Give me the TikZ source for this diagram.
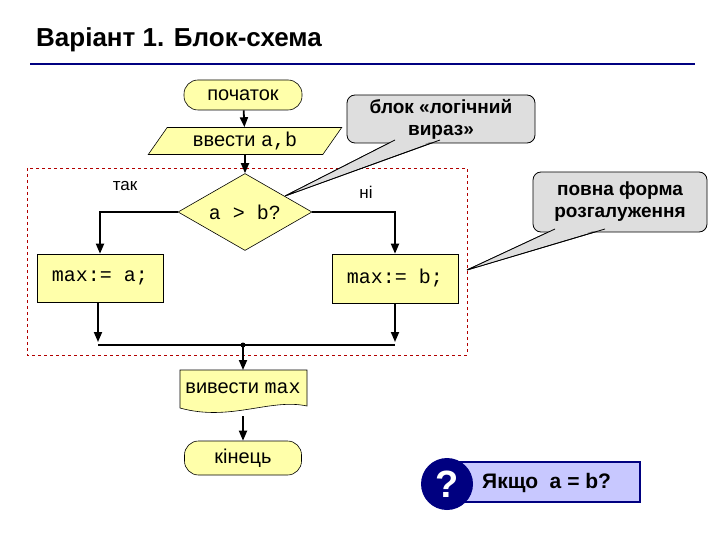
\documentclass[tikz,border=0pt]{standalone}
\usepackage{fontspec}
\setmainfont{Liberation Sans}
\setmonofont{Liberation Mono}
\usetikzlibrary{shapes.geometric,arrows.meta}
\definecolor{yel}{RGB}{255,255,170}
\definecolor{callg}{RGB}{222,222,222}
\definecolor{navy}{RGB}{0,0,128}
\definecolor{lav}{RGB}{200,200,255}
\begin{document}
\begin{tikzpicture}[x=1pt,y=-1pt,
  flow/.style={draw=black,line width=1.8pt,-{Triangle[length=10pt,width=8pt]}},
  blk/.style={draw=black,fill=yel,line width=0.6pt},
  txt/.style={font=\fontsize{20}{22}\selectfont,inner sep=0pt},
  mono/.style={font=\fontsize{20}{22}\selectfont\ttfamily},
  call/.style={draw=black,fill=callg,line width=0.8pt},
  ctxt/.style={font=\fontsize{19}{22}\selectfont\bfseries,align=center,inner sep=0pt}]
\useasboundingbox (0,0) rectangle (720,540);
\node[anchor=west,font=\fontsize{26}{30}\selectfont\bfseries,inner sep=0pt] (title) at (36,40) {Варіант 1. Блок-схема};
\draw[navy,line width=2.5pt] (30,64) -- (695,64);
\draw[red!70!black,dashed,line width=0.5pt] (27,168) rectangle (467,355);
\node[blk,rounded corners=14pt,minimum width=118pt,minimum height=30pt,txt] (start) at (243,95) {початок};
\node[blk,trapezium,trapezium left angle=55,trapezium right angle=125,minimum height=27pt,minimum width=130pt,inner xsep=2pt,txt] (input) at (245,141) {ввести \texttt{a,b}};
\node[blk,diamond,minimum width=134pt,minimum height=77pt,aspect=1.75,inner sep=0pt] (dec) at (245,212) {};
\node[inner sep=0pt,mono] (dect) at (245,212) {a > b?};
\node[blk,minimum width=126pt,minimum height=48pt,inner sep=0pt,mono] (ma) at (100,278) {max:= a;};
\node[blk,minimum width=126pt,minimum height=49pt,inner sep=0pt,mono] (mb) at (395,278.5) {max:= b;};
\node[txt,font=\fontsize{17}{19}\selectfont] (yes) at (125,186) {так};
\node[txt,font=\fontsize{17}{19}\selectfont] (no) at (366,192) {ні};
\draw[flow] (start) -- (input);
\draw[flow] (input) -- (dec);
\draw[flow] (dec.west) -| (ma.north);
\draw[flow] (dec.east) -| (mb.north);
\coordinate (ja) at (98,342);
\coordinate (jb) at (395,342);
\coordinate (jm) at (243,345);
\draw[flow] (ma.south-|ja) -- (ja);
\draw[flow] (mb.south) -- (jb);
\draw[line width=1.8pt] (98,345) -- (395,345);
\fill (jm) circle (2.5pt);
\draw[blk] (180,370) -- (307,370) -- (307,406) .. controls (270,398) and (230,422) .. (180,408) -- cycle;
\node[txt] (out) at (243,388) {вивести \texttt{max}};
\coordinate (outtop) at (243,370);
\coordinate (outbot) at (243,416);
\draw[flow] (jm) -- (outtop);
\node[blk,rounded corners=14pt,minimum width=117pt,minimum height=34pt,txt] (end) at (243,458) {кінець};
\draw[flow] (outbot) -- (end);
\coordinate (c1tip) at (285,196);
\draw[call] (395,140) -- (c1tip) -- (440,140) -- cycle;
\node[call,rounded corners=8pt,minimum width=188pt,minimum height=48pt,ctxt] (c1) at (441,119) {блок «логічний\\вираз»};
\fill[callg] (397,139) -- (c1tip) -- (438,139) -- cycle;
\draw[line width=0.8pt] (395,140) -- (c1tip) -- (440,140);
\coordinate (c2tip) at (467,270);
\draw[call] (555,229) -- (c2tip) -- (605,229) -- cycle;
\node[call,rounded corners=8pt,minimum width=174pt,minimum height=60pt,ctxt] (c2) at (620,202) {повна форма\\розгалуження};
\fill[callg] (557,228) -- (c2tip) -- (603,228) -- cycle;
\draw[line width=0.8pt] (555,229) -- (c2tip) -- (605,229);
\node[draw=navy,fill=lav,line width=1.5pt,minimum width=180pt,minimum height=40pt,inner sep=0pt] (qb) at (550,482) {};
\node[anchor=west,inner sep=0pt,font=\fontsize{21}{23}\selectfont\bfseries] (qt) at (482,483) {Якщо\ \ a = b?};
\node[circle,fill=navy,minimum size=52pt,inner sep=0pt,text=white,font=\fontsize{38}{40}\selectfont\bfseries] (qc) at (447,484) {?};
\end{tikzpicture}
\end{document}
